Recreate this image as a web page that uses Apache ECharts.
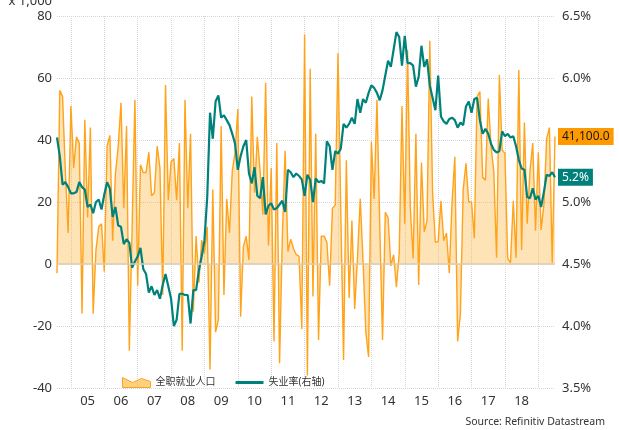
<!DOCTYPE html>
<html>
<head>
<meta charset="utf-8">
<script src="https://cdn.jsdelivr.net/npm/echarts@6/dist/echarts.min.js"></script>
<style>
  html, body { margin: 0; padding: 0; background: #fff; }
  #chart { width: 619px; height: 430px; }
</style>
</head>
<body>
<div id="chart"></div>
<script>
  // 月度数据，2004年8月 - 2019年7月
  var startYear = 2004
  var startMonth = 8
  var yearLabels = ['05', '06', '07', '08', '09', '10', '11', '12', '13', '14', '15', '16', '17', '18']

  // 全职就业人口月度变化（千人）
  var employment = [
    -3, 56, 54, 30, 10, 51, 31, 41, 39, -16, 46.5, 15,
    44, -16, 4.5, 12, 13, -2.5, 38, 41.5, 7.5, 29, 38, 52,
    18, 44.5, -28, 12, 53, -7, 32, 29.5, 29.5, 36, 22, 23,
    38, 31, -10, 57.7, 20.6, 33, 34, 20.6, 39, -28, 53, 18,
    42, -15.4, 9, -6, 7.7, 3.4, 12, -34, 24, -22, -18, 44.5,
    -10, 21, 10, 30, 36, 50, -17, 5.6, 9, 1.3, 54, 23,
    41, 30, 16, 58.5, 6, 31, -25, 39, -32, 9, 36.5, 4,
    8, 5, 3, 2.5, -21, 74, -36, 63, -10.5, 42, -24.5, 9,
    9, 7, -7, 18, 19, 68, 17, -31, 33.5, -11, 14, -14.5,
    2, 21, 1, -22, -30, 39.5, 21, 53, 13, -24.5, 16.7, 15,
    -0.6, 3, -7.5, 3.4, 51, 13, 69, 18, 1.8, 42, -6.8, 32.7,
    10.4, 14, 72, 23, 7, 7.2, 20.4, 7.5, 10, -3, 20, 34.6,
    -25, -16, 24, 32.5, 20, 20, 8.3, 54, 55.6, 28, 27, 53.4,
    38, 30, 2, 61, 36.8, 35.7, 1.8, 0.4, 20.4, 2, 62.6, 4.5,
    45.6, 13, 30, 39, 10.7, 36, 11, 19, 40.5, 44, 0.4, 41.1
  ]

  // 失业率（%）
  var unemployment = [
    5.52, 5.37, 5.14, 5.16, 5.12, 5.07, 5.07, 5.08, 5.16, 5.12, 5.10, 4.96,
    4.98, 4.91, 5.0, 5.02, 4.94, 5.06, 5.16, 5.11, 4.88, 4.96, 4.81, 4.80,
    4.66, 4.70, 4.67, 4.47, 4.52, 4.56, 4.63, 4.46, 4.42, 4.27, 4.32, 4.25,
    4.29, 4.22, 4.33, 4.42, 4.32, 4.22, 4.0, 4.05, 4.26, 4.26, 4.25, 4.25,
    4.02, 4.29, 4.29, 4.45, 4.56, 4.69, 5.04, 5.72, 5.51, 5.81, 5.86, 5.68,
    5.70, 5.66, 5.62, 5.55, 5.47, 5.26, 5.37, 5.45, 5.50, 5.23, 5.15, 5.28,
    5.05, 5.03, 5.2, 4.9, 4.97, 4.99, 4.94, 4.95, 4.98, 5.01, 4.92, 5.26,
    5.24, 5.2, 5.23, 5.21, 5.18, 5.05, 5.22, 5.18, 5.0, 5.19, 5.16, 5.17,
    5.15, 5.49, 5.45, 5.26, 5.41, 5.39, 5.43, 5.63, 5.6, 5.63, 5.68, 5.63,
    5.83, 5.72, 5.83, 5.80, 5.88, 5.94, 5.92, 5.88, 5.82, 5.90, 6.02, 6.14,
    6.09, 6.23, 6.37, 6.33, 6.10, 6.34, 6.12, 6.12, 6.10, 5.93, 6.01, 6.26,
    6.09, 6.15, 5.94, 5.84, 5.74, 6.02, 5.69, 5.65, 5.63, 5.67, 5.68, 5.66,
    5.60, 5.64, 5.62, 5.77, 5.81, 5.72, 5.83, 5.84, 5.66, 5.55, 5.59, 5.55,
    5.47, 5.42, 5.40, 5.41, 5.57, 5.53, 5.55, 5.52, 5.53, 5.45, 5.34, 5.27,
    5.26, 5.04, 5.03, 5.11, 5.02, 5.05, 4.96, 5.08, 5.22, 5.21, 5.24, 5.2
  ]

  // 类目：年-月
  var months = []
  for (var i = 0; i < employment.length; i++) {
    var m = startMonth - 1 + i
    var y = startYear + Math.floor(m / 12)
    var mm = (m % 12) + 1
    months.push(y + '-' + (mm < 10 ? '0' + mm : '' + mm))
  }

  var font = '"Noto Sans", "Noto Sans CJK SC", sans-serif'
  var myChart = echarts.init(document.getElementById('chart'))
  myChart.setOption({
    animation: false,
    textStyle: {fontFamily: font},
    grid: {left: 57, right: 64, top: 16, bottom: 42},
    legend: {
      left: 117,
      top: 372,
      itemWidth: 28,
      itemHeight: 11,
      itemGap: 20,
      symbolKeepAspect: true,
      textStyle: {fontSize: 10, color: '#333', fontFamily: font},
      data: [
        {
          name: '全职就业人口',
          icon: 'path://M0,2 L10,7 L19,3 L28,6 L28,12 L0,12 Z',
          itemStyle: {color: 'rgba(252,176,50,0.6)', borderColor: '#FFA31A', borderWidth: 1}
        },
        {
          name: '失业率(右轴)',
          icon: 'path://M0,0 L28,0 L28,3 L0,3 Z',
          itemStyle: {color: '#00827C', borderWidth: 0}
        }
      ]
    },
    graphic: [
      {
        type: 'text',
        x: 52,
        y: 8,
        style: {text: 'x 1,000', align: 'right', verticalAlign: 'bottom', fill: '#333', font: '13px ' + font}
      },
      {
        type: 'text',
        right: 14,
        bottom: 3,
        style: {text: 'Source: Refinitiv Datastream', fill: '#333', font: '10.5px ' + font}
      }
    ],
    xAxis: {
      type: 'category',
      data: months,
      boundaryGap: false,
      axisLine: {show: false},
      axisTick: {show: false},
      axisLabel: {
        interval: function (index, value) {
          return value.slice(5) === '07' && yearLabels.indexOf(value.slice(2, 4)) >= 0
        },
        formatter: function (value) {
          return value.slice(2, 4)
        },
        fontSize: 13,
        color: '#333',
        margin: 7
      },
      splitLine: {
        show: true,
        interval: function (index, value) {
          return value.slice(5) === '01'
        },
        lineStyle: {type: 'dotted', color: '#d6d6d6'}
      }
    },
    yAxis: [
      {
        type: 'value',
        min: -40,
        max: 80,
        interval: 20,
        axisLine: {show: false},
        axisTick: {show: false},
        axisLabel: {fontSize: 13, color: '#333', margin: 5},
        splitLine: {lineStyle: {type: 'dotted', color: '#d6d6d6'}}
      },
      {
        type: 'value',
        min: 3.5,
        max: 6.5,
        interval: 0.5,
        axisLine: {show: false},
        axisTick: {show: false},
        splitLine: {show: false},
        axisLabel: {
          fontSize: 13,
          color: '#333',
          margin: 7,
          formatter: function (v) { return v.toFixed(1) + '%' }
        }
      }
    ],
    series: [
      {
        name: '全职就业人口',
        type: 'line',
        yAxisIndex: 0,
        data: employment,
        symbol: 'none',
        lineStyle: {color: '#FFA31A', width: 1.4},
        itemStyle: {color: '#FFA31A'},
        areaStyle: {color: 'rgba(252,176,50,0.5)'},
        markLine: {
          silent: true,
          symbol: 'none',
          label: {show: false},
          lineStyle: {color: '#d8ccb4', type: 'solid', width: 1.5},
          data: [{yAxis: 0}]
        },
        endLabel: {
          show: true,
          distance: 3,
          formatter: function (p) {
            return (p.value * 1000).toLocaleString('en-US', {minimumFractionDigits: 1, maximumFractionDigits: 1})
          },
          backgroundColor: '#FF9900',
          color: '#1a1a1a',
          fontSize: 12,
          padding: [3, 4, 2, 4]
        }
      },
      {
        name: '失业率(右轴)',
        type: 'line',
        yAxisIndex: 1,
        data: unemployment,
        symbol: 'none',
        lineStyle: {color: '#00827C', width: 2.2},
        itemStyle: {color: '#00827C'},
        endLabel: {
          show: true,
          distance: 3,
          formatter: function (p) { return p.value.toFixed(1) + '%' },
          backgroundColor: '#00807A',
          color: '#fff',
          fontSize: 12,
          padding: [3, 4, 2, 4]
        }
      }
    ]
  })
</script>
</body>
</html>
